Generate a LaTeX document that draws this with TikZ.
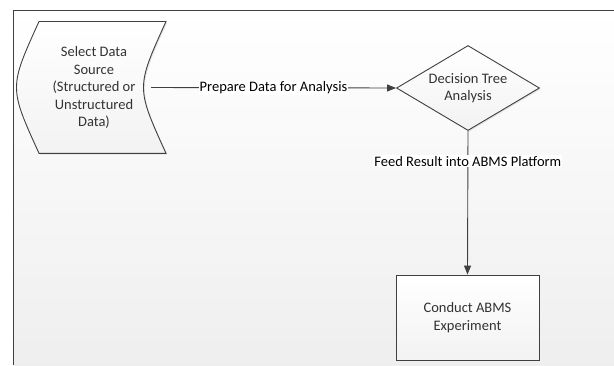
\documentclass[tikz,border=0pt]{standalone}
\usepackage{fontspec}
\setmainfont{Carlito}
\usetikzlibrary{arrows.meta,shapes.geometric,shadows}

\definecolor{edgegray}{HTML}{404040}
\definecolor{textgray}{HTML}{333333}

\tikzset{
  flowbox/.style={draw=edgegray, line width=0.9pt, top color=white, bottom color=gray!10,
    text=textgray, align=center, font=\fontsize{14.5}{17.5}\selectfont,
    drop shadow={opacity=0.2, shadow xshift=1.2pt, shadow yshift=-1.2pt}},
  flowline/.style={draw=edgegray, line width=0.9pt, -{Triangle[length=9pt,width=7pt]}},
  flowlabel/.style={fill=white, text=black, inner sep=1pt, font=\fontsize{14.5}{17.5}\selectfont}
}

\begin{document}
\begin{tikzpicture}[x=1pt,y=-1pt]

\useasboundingbox (0,0) rectangle (614,365);

% page frame
\shade[top color=white, bottom color=gray!13]
(13.3,10.7)
rectangle
(614,365);

\draw[edgegray, line width=0.8pt]
(614,10.7)
--
(13.3,10.7)
--
(13.3,365);

% data source
\fill[gray!35, opacity=0.6]
(40.2,22.7)
--
(167.2,22.7)
.. controls (137.2,88.7) ..
(167.2,154.5)
--
(40.2,154.5)
.. controls (10.2,88.7) ..
cycle;

\draw[edgegray, line width=0.9pt, top color=white, bottom color=gray!10]
(39,21.5)
--
(166,21.5)
.. controls (136,87.5) ..
(166,153.3)
--
(39,153.3)
.. controls (9,87.5) ..
cycle;

\node[text=textgray, align=center, font=\fontsize{14.5}{17.5}\selectfont] (src) at (94,87.5)
{Select Data\\Source\\(Structured or\\Unstructured\\Data)};

\coordinate (srcE) at (151,87.5);

% decision tree
\node[flowbox, diamond, aspect=1.69, inner sep=0pt,
  minimum width=143pt, minimum height=85pt] (dt) at (468,88)
{Decision Tree\\Analysis};

% experiment
\node[flowbox, rectangle, minimum width=143pt, minimum height=85pt] (abms) at (467.5,317.5)
{Conduct ABMS\\Experiment};

% connectors
\draw[flowline]
(srcE)
--
node[flowlabel] {Prepare Data for Analysis}
(dt.west);

\draw[flowline]
(dt.south)
--
node[flowlabel, pos=0.21] {Feed Result into ABMS Platform}
(abms.north);

\end{tikzpicture}
\end{document}
